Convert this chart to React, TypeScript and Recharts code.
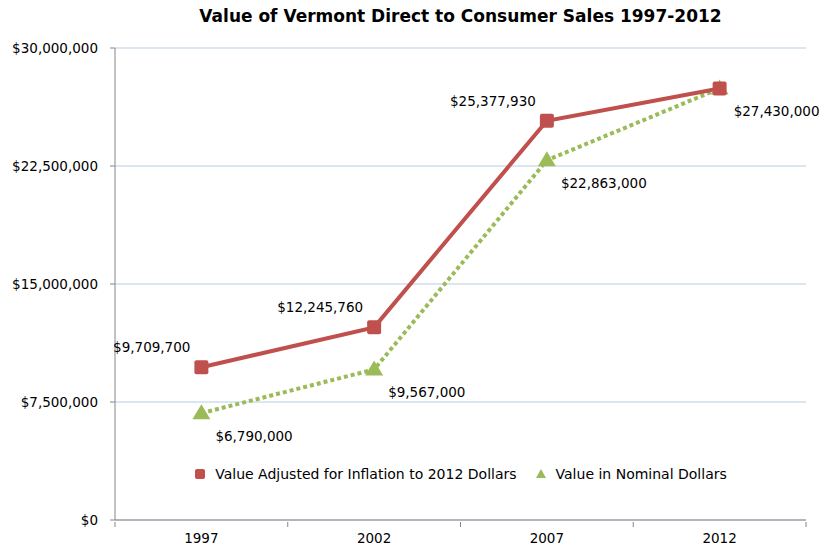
import React from 'react';
import { LineChart, Line, XAxis, YAxis, CartesianGrid, Legend, LabelList } from 'recharts';

const years = ['1997', '2002', '2007', '2012'];
const adjustedValues = [9709700, 12245760, 25377930, 27430000];
const nominalValues = [6790000, 9567000, 22863000, 27430000];
const yTicks = [0, 7500000, 15000000, 22500000, 30000000];

const RED = '#c0504d';
const GREEN = '#9bbb59';
const FONT = '"DejaVu Sans", sans-serif';

const data = years.map((year, i) => ({
    year,
    adjusted: adjustedValues[i],
    nominal: nominalValues[i],
}));

const money = (v: number) => '$' + v.toLocaleString('en-US');

const SquareDot = (props: any) => {
    const { cx, cy, index } = props;
    return <rect key={`sq-${index}`} x={cx - 7} y={cy - 7} width={14} height={14} rx={2} fill={RED} />;
};

const TriangleDot = (props: any) => {
    const { cx, cy, index } = props;
    return (
        <polygon
            key={`tri-${index}`}
            points={`${cx},${cy - 9} ${cx + 9},${cy + 6} ${cx - 9},${cy + 6}`}
            fill={GREEN}
        />
    );
};

// red labels sit above-left of the point, last one is hidden under the green one
const RedLabel = (props: any) => {
    const { x, y, value, index } = props;
    if (index === years.length - 1) return null;
    return (
        <text x={x - 11} y={y - 20} textAnchor="end" dominantBaseline="central" fontSize={13.5} fontFamily={FONT} fill="#000">
            {money(value)}
        </text>
    );
};

const GreenLabel = (props: any) => {
    const { x, y, value } = props;
    return (
        <text x={x + 14} y={y + 23} textAnchor="start" dominantBaseline="central" fontSize={13.5} fontFamily={FONT} fill="#000">
            {money(value)}
        </text>
    );
};

const XTick = (props: any) => {
    const { x, y, payload, index } = props;
    const half = payload?.offset || 86;
    return (
        <g>
            <line x1={x - half} y1={y} x2={x - half} y2={y + 5} stroke="#868686" />
            {index === years.length - 1 && (
                <line x1={x + half} y1={y} x2={x + half} y2={y + 5} stroke="#868686" />
            )}
            <text x={x} y={y + 16} textAnchor="middle" dominantBaseline="central" fontSize={13.5} fontFamily={FONT} fill="#000">
                {payload.value}
            </text>
        </g>
    );
};

const LegendContent = () => (
    <div style={{ display: 'flex', justifyContent: 'center', alignItems: 'center', fontFamily: FONT, fontSize: 14, color: '#000' }}>
        <svg width={12} height={12} style={{ marginRight: 9 }}>
            <rect x={1} y={1} width={10} height={10} rx={2} fill={RED} />
        </svg>
        <span style={{ marginRight: 18 }}>Value Adjusted for Inflation to 2012 Dollars</span>
        <svg width={12} height={12} style={{ marginRight: 9 }}>
            <polygon points="6,1 11,10 1,10" fill={GREEN} />
        </svg>
        <span>Value in Nominal Dollars</span>
    </div>
);

export default function App() {
    return (
        <div style={{ position: 'absolute', left: 0, top: 0, width: 833, height: 548, background: '#fff' }}>
            <div
                style={{
                    position: 'absolute', left: 115, width: 691, top: 6, textAlign: 'center',
                    fontFamily: FONT, fontWeight: 'bold', fontSize: 17, color: '#000',
                }}
            >
                Value of Vermont Direct to Consumer Sales 1997-2012
            </div>
            <LineChart width={833} height={548} data={data} margin={{ top: 48, right: 27, bottom: 0, left: 0 }}>
                <CartesianGrid horizontal vertical={false} stroke="#b9cde5" />
                <XAxis
                    dataKey="year"
                    scale="band"
                    height={28}
                    stroke="#868686"
                    tickLine={false}
                    tickSize={0}
                    tick={<XTick />}
                    interval={0}
                />
                <YAxis
                    width={115}
                    domain={[0, 30000000]}
                    ticks={yTicks}
                    tickFormatter={money}
                    stroke="#868686"
                    tickSize={5}
                    tickMargin={12}
                    tick={{ fontSize: 13.5, fontFamily: FONT, fill: '#000' }}
                />
                <Legend
                    layout="horizontal"
                    verticalAlign="middle"
                    align="center"
                    content={<LegendContent />}
                    wrapperStyle={{ top: 466, left: 115, width: 691 }}
                />
                <Line
                    dataKey="nominal"
                    name="Value in Nominal Dollars"
                    stroke={GREEN}
                    strokeWidth={4}
                    strokeDasharray="4 3"
                    dot={<TriangleDot />}
                    activeDot={false}
                    isAnimationActive={false}
                >
                    <LabelList dataKey="nominal" content={<GreenLabel />} />
                </Line>
                <Line
                    dataKey="adjusted"
                    name="Value Adjusted for Inflation to 2012 Dollars"
                    stroke={RED}
                    strokeWidth={4}
                    dot={<SquareDot />}
                    activeDot={false}
                    isAnimationActive={false}
                >
                    <LabelList dataKey="adjusted" content={<RedLabel />} />
                </Line>
            </LineChart>
        </div>
    );
}
